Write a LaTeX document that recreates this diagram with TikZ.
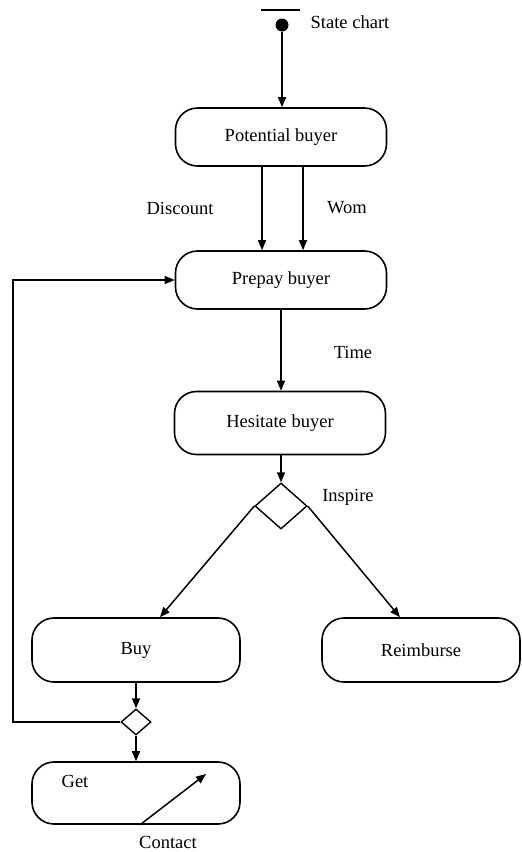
\documentclass[tikz,border=0pt]{standalone}
\usepackage{fontspec}
\setmainfont{Liberation Serif}
\usetikzlibrary{shapes.geometric,arrows.meta}
\begin{document}
\begin{tikzpicture}[x=1pt,y=-1pt,
  every node/.style={font=\fontsize{18.5}{22}\selectfont},
  state/.style={draw,line width=1.6pt,rounded corners=22pt,minimum width=211pt,minimum height=58pt,inner sep=0pt},
  choice/.style={draw,diamond,line width=1.4pt,inner sep=0pt},
  arr/.style={line width=1.5pt,-{Triangle[length=10pt,width=8pt]}},
  lbl/.style={inner sep=0pt}]
\useasboundingbox (0,0) rectangle (522,852);
% start
\draw[line width=1.5pt] (261,10) coordinate (barl) -- (300,10) coordinate (barr);
\node[circle,fill=black,minimum size=13pt,inner sep=0pt] (start) at (282,25) {};
\node[lbl] (title) at (350,22) {State chart};
% states
\node[state] (pb) at (281,137) {Potential buyer};
\node[state] (pp) at (281,280) {Prepay buyer};
\node[state,minimum height=63pt] (hb) at (280,423) {Hesitate buyer};
\node[choice,minimum width=52pt,minimum height=46pt] (d1) at (281,506) {};
\node[state,minimum width=208pt,minimum height=64pt] (buy) at (136,650) {Buy};
\node[state,minimum width=198pt,minimum height=64pt] (reim) at (421,650) {Reimburse};
\node[choice,minimum width=30pt,minimum height=26pt] (d2) at (136,722) {};
\node[state,minimum width=208pt,minimum height=62pt] (get) at (136,793) {};
% labels
\node[lbl] (ldisc) at (180,208) {Discount};
\node[lbl] (lwom) at (347,208) {Wom};
\node[lbl] (ltime) at (353,352) {Time};
\node[lbl] (linsp) at (348,497) {Inspire};
\node[lbl] (lget) at (75,781) {Get};
\node[lbl] (lcont) at (168,842) {Contact};
% connectors
\draw[arr] (start) -- (start |- pb.north);
\draw[arr] ([xshift=-19pt]pb.south) -- ([xshift=-19pt]pp.north);
\draw[arr] ([xshift=22pt]pb.south) -- ([xshift=22pt]pp.north);
\draw[arr] (pp.south) -- (hb.north -| pp.south);
\draw[arr] (hb.south -| d1.north) -- (d1.north);
\draw[arr] (d1.west) -- ([xshift=24pt]buy.north);
\draw[arr] (d1.east) -- ([xshift=-21pt]reim.north);
\draw[arr] (buy.south) -- (d2.north);
\draw[arr] (d2.south) -- (get.north);
\coordinate (loopc) at (13,722);
\draw[arr] (d2.west) -- (loopc) |- (pp.west);
\coordinate (gettip) at (206,774);
\draw[arr] ([xshift=4pt]get.south) -- (gettip);
\end{tikzpicture}
\end{document}
